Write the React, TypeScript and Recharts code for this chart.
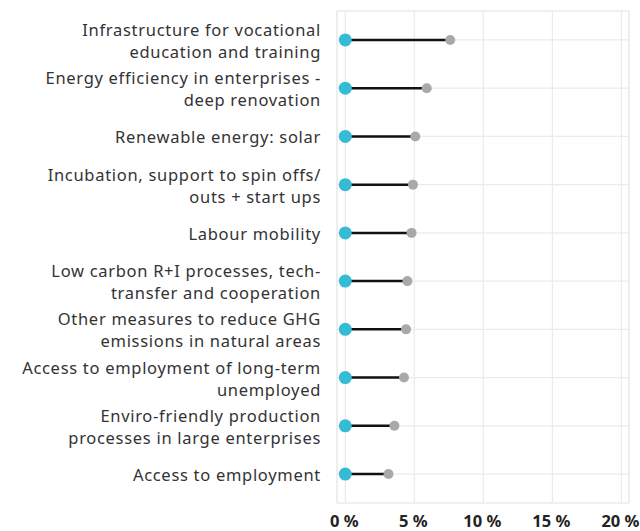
import React from 'react';
import { ScatterChart, Scatter, XAxis, YAxis, CartesianGrid, ReferenceArea } from 'recharts';

const categories: string[] = [
  'Infrastructure for vocational\neducation and training',
  'Energy efficiency in enterprises -\ndeep renovation',
  'Renewable energy: solar',
  'Incubation, support to spin offs/\nouts + start ups',
  'Labour mobility',
  'Low carbon R+I processes, tech-\ntransfer and cooperation',
  'Other measures to reduce GHG\nemissions in natural areas',
  'Access to employment of long-term\nunemployed',
  'Enviro-friendly production\nprocesses in large enterprises',
  'Access to employment',
];
const startValues: number[] = [0, 0, 0, 0, 0, 0, 0, 0, 0, 0];
const endValues: number[] = [7.6, 5.9, 5.07, 4.9, 4.8, 4.5, 4.4, 4.25, 3.56, 3.13];
const xTicks: number[] = [0, 5, 10, 15, 20];

const rows = categories.map((name, i) => ({ name, pos: i + 1, start: startValues[i], end: endValues[i] }));
const startData = rows.map((r) => ({ x: r.start, y: r.pos }));
const endData = rows.map((r) => ({ x: r.end, y: r.pos }));

const FONT = '"Noto Sans", sans-serif';

const YTick = (props: any) => {
  const { x, y, payload } = props;
  const label = categories[payload.value - 1] || '';
  const lines = label.split('\n');
  const lh = 22;
  const y0 = y - ((lines.length - 1) * lh) / 2;
  return (
    <text x={x - 8} y={y0} textAnchor="end" fill="#333" fontSize={16.5} letterSpacing={0.7} fontFamily={FONT} dominantBaseline="central">
      {lines.map((l, i) => (
        <tspan key={i} x={x - 8} y={y0 + i * lh}>{l}</tspan>
      ))}
    </text>
  );
};

const XTick = (props: any) => {
  const { x, y, payload } = props;
  return (
    <text x={x - 1} y={y + 16} textAnchor="middle" fill="#222" fontSize={16.5} fontWeight={700} fontFamily={FONT}>
      {`${payload.value} %`}
    </text>
  );
};

const NoDot = () => <g />;
const BlueDot = (p: any) => <circle cx={p.cx} cy={p.cy} r={6.5} fill="#35bbd6" />;
const GrayDot = (p: any) => <circle cx={p.cx} cy={p.cy} r={5} fill="#a9a9a9" />;

export default function App() {
  return (
    <div style={{ position: 'absolute', left: 0, top: 0 }}>
      <ScatterChart width={640} height={531} margin={{ top: 11, right: 11, left: 0, bottom: 0 }}>
        <CartesianGrid stroke="#ebebeb" strokeWidth={1.2} />
        <ReferenceArea x1={-0.6} x2={20.55} y1={0.4} y2={10.6} fill="none" stroke="#ebebeb" strokeWidth={1.2} ifOverflow="visible" />
        <XAxis
          type="number"
          dataKey="x"
          domain={[-0.6, 20.55]}
          ticks={xTicks}
          interval={0}
          allowDataOverflow
          axisLine={false}
          tickLine={false}
          height={28}
          tick={<XTick />}
        />
        <YAxis
          type="number"
          dataKey="y"
          domain={[0.4, 10.6]}
          ticks={rows.map((r) => r.pos)}
          interval={0}
          reversed
          allowDataOverflow
          axisLine={false}
          tickLine={false}
          width={337}
          tick={<YTick />}
        />
        {rows.map((r) => (
          <Scatter
            key={r.pos}
            data={[{ x: r.start, y: r.pos }, { x: r.end, y: r.pos }]}
            line={{ stroke: '#111', strokeWidth: 2.5 }}
            shape={<NoDot />}
            isAnimationActive={false}
          />
        ))}
        <Scatter data={endData} shape={<GrayDot />} isAnimationActive={false} />
        <Scatter data={startData} shape={<BlueDot />} isAnimationActive={false} />
      </ScatterChart>
    </div>
  );
}
